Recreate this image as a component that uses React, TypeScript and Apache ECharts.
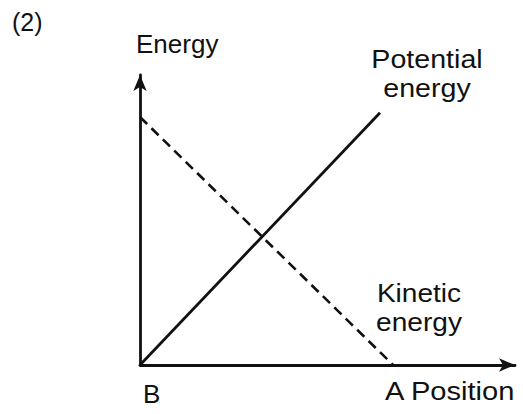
import React, { useEffect, useRef } from "react";
import * as echarts from "echarts";

// Position (x) and energy (y) values, in arbitrary units 0..100
const potentialPosition = [0, 64];
const potentialEnergy = [0, 87];
const kineticPosition = [0, 67.5];
const kineticEnergy = [85.5, 0];

const figureLabel = "(2)";
const yAxisTitle = "Energy";
const potentialLabel = ["Potential", "energy"];
const kineticLabel = ["Kinetic", "energy"];
const originLabel = "B";
const endLabel = "A Position";

const FONT = "'Liberation Sans', Arial, sans-serif";
const INK = "#111";

export default function App() {
  const ref = useRef<HTMLDivElement>(null);

  useEffect(() => {
    if (!ref.current) return;
    const chart = echarts.init(ref.current, null, { renderer: "svg" });
    const textStyle = (text: string, extra: any = {}) => ({
      text,
      fill: INK,
      fontSize: 26,
      fontFamily: FONT,
      lineHeight: 29,
      verticalAlign: "top",
      ...extra,
    });
    const option: any = {
      animation: false,
      backgroundColor: "#fff",
      grid: { left: 140, right: 8, top: 75, bottom: 49 },
      xAxis: {
        type: "value",
        min: 0,
        max: 100,
        axisLine: {
          show: true,
          onZero: false,
          symbol: ["none", "arrow"],
          symbolSize: [10, 16],
          lineStyle: { color: INK, width: 2.8 },
        },
        axisTick: { show: false },
        axisLabel: { show: false },
        splitLine: { show: false },
      },
      yAxis: {
        type: "value",
        min: 0,
        max: 100,
        axisLine: {
          show: true,
          onZero: false,
          symbol: ["none", "arrow"],
          symbolSize: [10, 16],
          lineStyle: { color: INK, width: 2.8 },
        },
        axisTick: { show: false },
        axisLabel: { show: false },
        splitLine: { show: false },
      },
      series: [
        {
          name: "Potential energy",
          type: "line",
          data: potentialPosition.map((x, i) => [x, potentialEnergy[i]]),
          symbol: "none",
          lineStyle: { color: INK, width: 2.8, type: "solid" },
        },
        {
          name: "Kinetic energy",
          type: "line",
          data: kineticPosition.map((x, i) => [x, kineticEnergy[i]]),
          symbol: "none",
          lineStyle: { color: INK, width: 2.6, type: [10, 6] },
        },
      ],
      graphic: [
        {
          type: "text",
          x: 12,
          y: 7,
          style: textStyle(figureLabel, { fontSize: 25 }),
        },
        {
          type: "text",
          x: 136,
          y: 29,
          style: textStyle(yAxisTitle),
        },
        {
          type: "text",
          x: 427,
          y: 44,
          scaleX: 1.1,
          style: textStyle(potentialLabel.join("\n"), { align: "center" }),
        },
        {
          type: "text",
          x: 419,
          y: 279,
          scaleX: 1.08,
          style: textStyle(kineticLabel.join("\n"), { align: "center" }),
        },
        {
          type: "text",
          x: 143,
          y: 379,
          style: textStyle(originLabel),
        },
        {
          type: "text",
          x: 385,
          y: 377,
          scaleX: 1.12,
          style: textStyle(endLabel),
        },
      ],
    };
    chart.setOption(option);
    return () => chart.dispose();
  }, []);

  return (
    <div
      ref={ref}
      style={{ position: "fixed", left: 0, top: 0, width: 523, height: 414, background: "#fff" }}
    />
  );
}
